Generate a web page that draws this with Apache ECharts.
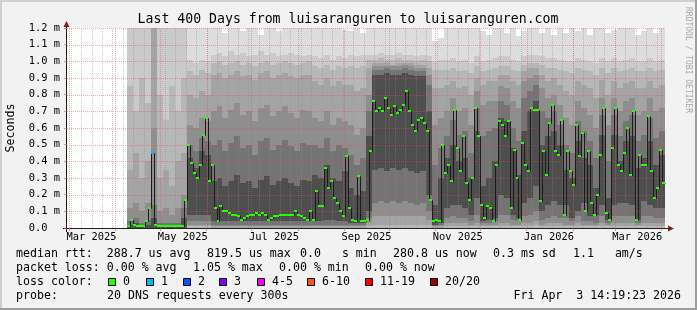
<!DOCTYPE html>
<html><head><meta charset="utf-8">
<script src="https://cdn.jsdelivr.net/npm/echarts@6/dist/echarts.min.js"></script>
<style>html,body{margin:0;padding:0;background:#f2f2f2}#c{width:697px;height:310px}</style>
</head><body><div id="c"></div>
<script>
// ================= DATA (latency values in units of 0.01 ms) =================
const endTime = '2026-04-03T14:19:23Z';
const spanDays = 400;
const xTickLabels = ['Mar 2025','May 2025','Jul 2025','Sep 2025','Nov 2025','Jan 2026','Mar 2026'];
const xTickLabelDates = ['2025-03-16','2025-05-16','2025-07-16','2025-09-16','2025-11-16','2026-01-16','2026-03-16'];
const monthStartDates = ['2025-03-01','2025-04-01','2025-05-01','2025-06-01','2025-07-01','2025-08-01','2025-09-01',
  '2025-10-01','2025-11-01','2025-12-01','2026-01-01','2026-02-01','2026-03-01','2026-04-01'];
const firstWeekLine = '2025-03-02';
const yMax = 120, yStep = 10;

// median rtt, one value per 2 days starting at day 40
const medianFirstDay = 40, medianStepDays = 2;
const median = [
  1,5,2,1,1,1,4,12,45,2,
  1,1,1,1,1,1,1,1,1,17,
  50,39,33,30,38,56,66,28,38,12,
  4,13,10,10,9,8,8,7,5,6,
  7,8,8,9,8,9,8,5,6,7,
  7,8,8,8,8,8,10,8,7,6,
  5,10,5,22,13,13,36,24,28,18,
  15,10,7,43,12,5,4,31,4,4,
  5,46,76,70,72,70,78,72,68,73,
  69,71,74,82,70,62,58,65,66,63,
  58,17,4,5,4,50,33,38,28,71,
  48,34,55,27,17,30,72,55,14,6,
  13,12,4,38,64,62,55,64,12,47,
  30,5,51,38,34,72,71,71,16,46,
  32,63,74,46,44,65,8,46,34,26,
  62,43,57,10,46,15,8,20,44,72,
  9,5,48,72,38,34,45,60,32,70,
  5,44,38,38,67,34,18,24,47,27];
// [median index, lost pings of 20]
const lossEvents = [[8, 1]];

// smoke bands, one column per 4 days starting at day 40
const smokeFirstDay = 40, smokeStepDays = 4;
const smokeHi1 = [130,130,130,130,130,130,130,130,130,130, 130,130,130,130,
  130,130,117,130,130,118,130,130,116,130,130,118,130,130,130,130,130,
  130,130,130,130,130,119, 118,130,117,
  130,130,130,130,130,130,130,130,130,130, 130, 112,114,
  130,130,130,130,130,130,118,116,130,130,117,130,115,118,130,130,117,130,116,130,117,130,118,130,116,130,130,117,119,130,130,130,116,118,130,117,130];
const smokeHi2 = [130,130,130,130,130,130,130,130,130,130, 101,99,101,100,
  104,105,103,106,104,105,103,104,106,104,105,103,104,105,104,103,104,
  103,102,104,101,103,102, 104,103,104,
  104,104,105,104,104,105,104,104,103,104, 103, 100,101,
  101,102,100,101,99,103,100,101,102,103,103,101,100,103,104,104,103,102,102,101,100,100,102,101,100,99,102,100,102,100,101,102,100,100,102,100,101];
const smokeHi3 = [85,70,90,75,130,80,65,85,70,90, 94,92,95,93,
  99,100,98,99,100,98,99,97,99,100,98,99,100,99,98,99,100,
  97,96,98,95,97,96, 97,96,97,
  101,101,102,101,101,102,101,101,100,101, 100, 95,95,
  95,96,94,95,93,97,94,95,96,97,97,95,94,98,99,99,98,96,96,95,94,93,96,95,94,92,96,93,96,94,95,96,94,94,96,94,95];
const smokeHi4 = [35,45,30,40,130,30,35,25,40,45, 80,78,82,80,
  92,93,90,92,94,91,92,89,93,94,90,92,93,91,90,92,92,
  88,86,90,85,88,86, 86,82,84,
  96,99,99,99,98,99,99,99,98,98, 96, 84,84,
  86,88,84,85,80,90,86,88,88,92,92,88,86,94,96,96,92,88,90,86,82,80,88,86,84,78,89,80,88,84,87,88,84,84,88,84,86];
const smokeHi5 = [12,15,10,15,60,10,12,8,12,20, 62,60,66,64,
  70,73,66,71,75,68,70,64,72,74,67,70,73,69,66,71,70,
  66,64,70,62,66,64, 62,56,60,
  80,97,97,97,97,97,98,97,96,96, 92, 62,66,
  70,78,70,72,62,82,74,76,76,85,84,76,72,88,90,92,84,78,80,74,66,62,76,72,68,60,78,62,78,70,76,78,68,70,78,70,72];
const smokeHi6 = [4,6,3,5,14,3,3,3,3,12, 50,46,54,52,
  50,53,46,51,55,48,50,44,52,54,47,50,53,49,46,51,50,
  50,48,54,46,50,48, 44,38,42,
  70,95,95,96,95,95,96,95,94,94, 86, 38,48,
  55,65,56,58,45,72,55,58,60,76,74,60,52,78,82,86,70,66,70,62,50,45,64,58,52,42,68,40,68,55,64,68,52,56,66,54,58];
const smokeHi7 = [2,3,2,2,6,1,1,1,1,6, 42,36,46,44,
  28,30,25,28,32,27,28,24,29,31,26,28,30,27,25,29,28,
  32,30,38,30,28,34, 24,20,22,
  55,92,92,93,92,92,93,92,91,91, 70, 14,30,
  42,50,40,42,30,58,25,30,40,66,64,48,32,58,70,76,50,55,58,50,35,30,52,42,38,24,56,18,56,40,52,55,36,42,52,38,44];
const smokeLo4 = [0,0,0,0,0,0,0,0,0,0, 1,1,1,1,
  0,0,0,0,0,0,0,0,0,0,0,0,0,0,0,0,0,
  0,0,0,0,0,0, 0,0,0,
  1,2,2,2,2,2,2,2,2,2, 2, 0,0,
  1,1,1,1,1,1,1,1,1,1,1,1,1,1,1,2,1,1,1,1,1,1,1,1,1,1,1,1,1,1,1,1,1,1,1,1,1];
const smokeLo5 = [0,0,0,0,0,0,0,0,0,0, 2,2,2,2,
  1,1,1,1,1,1,1,1,1,1,1,1,1,1,1,1,1,
  1,1,1,1,1,1, 1,1,1,
  3,7,7,7,7,7,7,7,7,7, 5, 1,1,
  3,3,3,3,2,3,2,2,2,3,3,2,2,3,3,4,2,3,3,3,2,2,3,2,2,2,3,2,3,3,3,3,2,3,3,3,3];
const smokeLo6 = [0,0,0,0,0,0,0,0,0,0, 4,4,4,4,
  2,2,2,2,2,2,2,2,2,2,2,2,2,2,2,2,2,
  2,2,2,2,2,2, 2,2,2,
  6,15,16,15,16,15,16,15,14,15, 10, 2,2,
  6,7,6,6,4,8,3,3,4,8,8,5,4,7,8,10,5,6,7,6,6,4,7,4,4,3,7,3,7,7,7,7,3,7,7,6,6];
const smokeLo7 = [0,0,0,0,0,0,0,0,0,0, 8,8,8,8,
  4,4,4,4,4,4,4,4,4,4,4,4,4,4,4,4,4,
  4,4,5,5,4,4, 3,3,3,
  10,35,36,34,36,35,36,34,33,34, 20, 2,3,
  12,14,14,12,8,18,4,5,6,20,18,8,6,15,18,25,10,14,16,14,14,6,10,15,7,8,14,5,14,15,15,14,5,16,14,12,12];

// ================= STYLE =================
const FONT = '"DejaVu Sans Mono", monospace';
const MGRID = 'rgba(222,79,79,0.45)', GRID = 'rgba(143,143,143,0.45)', TICK = 'rgba(222,79,79,0.6)';
const bandColors = ['#dddddd','#cacaca','#b7b7b7','#a4a4a4','#8e8e8e','#747474','#4e4e4e'];
const lossColors = ['#26ff00','#00b8ff','#0059ff','#7e00ff','#ff00ff','#ff5500','#ff0000','#a10000'];

// ================= DERIVED =================
const DAY = 864e5;
const endMs = Date.parse(endTime), startMs = endMs - spanDays * DAY;
const dayOf = s => (Date.parse(s + 'T00:00:00Z') - startMs) / DAY;
const monthDays = monthStartDates.map(dayOf).filter(d => d >= 0 && d <= spanDays);
const labelDays = xTickLabelDates.map(dayOf);
const weekDays = [];
for (let d = dayOf(firstWeekLine); d < spanDays; d += 7) weekDays.push(d);
const hGrid = [];
for (let v = yStep; v <= yMax; v += yStep) hGrid.push(v);

const smokeData = smokeHi1.map((_, j) => [
  smokeFirstDay + j * smokeStepDays, smokeFirstDay + (j + 1) * smokeStepDays,
  0, smokeHi1[j], 0, smokeHi2[j], 0, smokeHi3[j],
  smokeLo4[j], smokeHi4[j], smokeLo5[j], smokeHi5[j], smokeLo6[j], smokeHi6[j], smokeLo7[j], smokeHi7[j]]);
const lossOf = i => { const e = lossEvents.find(e => e[0] === i); return e ? e[1] : 0; };
const medianData = median.map((v, i) => [
  medianFirstDay + i * medianStepDays, medianFirstDay + (i + 1) * medianStepDays,
  v, i > 0 ? median[i - 1] : v, lossOf(i)]);

function renderSmoke(params, api) {
  const d0 = api.value(0), d1 = api.value(1);
  const children = [];
  for (let k = 0; k < 7; k++) {
    const lo = Math.max(0, api.value(2 + 2 * k)), hi = Math.min(yMax, api.value(3 + 2 * k));
    if (hi <= lo) continue;
    const p0 = api.coord([d0, hi]), p1 = api.coord([d1, lo]);
    const x0 = Math.round(p0[0]), x1 = Math.round(p1[0]);
    const y0 = Math.round(p0[1]), y1 = Math.round(p1[1]);
    children.push({type: 'rect', shape: {x: x0, y: y0, width: x1 - x0, height: y1 - y0},
      style: {fill: bandColors[k]}});
  }
  return {type: 'group', children};
}
function renderMedianLine(params, api) {
  const a = api.coord([api.value(0), api.value(2)]);
  const b = api.coord([api.value(1), api.value(2)]);
  const yp = Math.round(api.coord([0, api.value(3)])[1]) + 0.5;
  const x0 = Math.round(a[0]) + 0.5, x1 = Math.round(b[0]) + 0.5, y = Math.round(a[1]) + 0.5;
  return {type: 'polyline', shape: {points: [[x0, yp], [x0, y], [x1, y]]},
    style: {stroke: '#1c1c1c', lineWidth: 1, fill: null}};
}
function renderMedianDot(params, api) {
  const a = api.coord([api.value(0), api.value(2)]);
  const b = api.coord([api.value(1), api.value(2)]);
  const x0 = Math.round(a[0]), x1 = Math.round(b[0]), y = Math.round(a[1]);
  const loss = api.value(4);
  const ci = loss <= 0 ? 0 : loss <= 3 ? loss : loss <= 5 ? 4 : loss <= 10 ? 5 : loss < 20 ? 6 : 7;
  return {type: 'rect', shape: {x: x0, y: y - 1, width: x1 - x0, height: 2}, style: {fill: lossColors[ci]}};
}
function renderHLine(params, api) {
  const y = Math.round(api.coord([0, api.value(1)])[1]) + 0.5;
  const xa = api.coord([0, 0])[0], xb = api.coord([spanDays, 0])[0];
  return {type: 'line', shape: {x1: xa, y1: y, x2: xb, y2: y},
    style: {stroke: MGRID, lineWidth: 1, lineDash: [1, 1], fill: null}};
}
function vLineRenderer(color) {
  return function (params, api) {
    const x = Math.round(api.coord([api.value(0), 0])[0]) + 0.5;
    const ya = api.coord([0, 0])[1], yb = api.coord([0, yMax])[1];
    return {type: 'line', shape: {x1: x, y1: ya, x2: x, y2: yb},
      style: {stroke: color, lineWidth: 1, lineDash: [1, 1], fill: null}};
  };
}

const chart = echarts.init(document.getElementById('c'), null, {renderer: 'canvas'});
const txt = (text, x, y, extra) => Object.assign({type: 'text', x, y, silent: true,
  style: Object.assign({text, font: '11.6px ' + FONT, fill: '#000', verticalAlign: 'middle', align: 'left'}, extra || {})});
const legendItems = [['0',108],['1',146],['2',183],['3',219],['4-5',257],['6-10',307],['11-19',365],['20/20',430]];
const graphics = [
  {type: 'rect', silent: true, shape: {x: 0, y: 0, width: 697, height: 2}, style: {fill: '#cfcfcf'}},
  {type: 'rect', silent: true, shape: {x: 0, y: 0, width: 2, height: 310}, style: {fill: '#cfcfcf'}},
  {type: 'rect', silent: true, shape: {x: 0, y: 308, width: 697, height: 2}, style: {fill: '#9e9e9e'}},
  {type: 'rect', silent: true, shape: {x: 695, y: 0, width: 2, height: 310}, style: {fill: '#9e9e9e'}},
  {type: 'line', silent: true, shape: {x1: 66.5, y1: 232, x2: 66.5, y2: 25}, style: {stroke: '#1f1f1f', lineWidth: 1}},
  {type: 'polygon', silent: true, shape: {points: [[63.5, 27], [69.5, 27], [66.5, 21]]}, style: {fill: '#801f1f'}},
  {type: 'line', silent: true, shape: {x1: 63, y1: 228.5, x2: 669, y2: 228.5}, style: {stroke: '#1f1f1f', lineWidth: 1}},
  {type: 'polygon', silent: true, shape: {points: [[668, 225.5], [668, 231.5], [674, 228.5]]}, style: {fill: '#801f1f'}},
  txt('Last 400 Days from luisaranguren to luisaranguren.com', 348, 19.5, {font: '13.2px ' + FONT, align: 'center'}),
  txt('Seconds', 11, 128, {align: 'center', }),
  txt('RRDTOOL / TOBI OETIKER', 688, 60, {font: '8px ' + FONT, fill: '#a8a8a8', align: 'center'}),
  txt('median rtt:  288.7 us avg', 16, 254), txt('819.5 us max', 207, 254), txt('0.0   s min', 300, 254),
  txt('280.8 us now', 393, 254), txt('0.3 ms sd', 493, 254), txt('1.1   am/s', 573, 254),
  txt('packet loss: 0.00 % avg', 16, 268), txt('1.05 % max', 193, 268), txt('0.00 % min', 279, 268), txt('0.00 % now', 365, 268),
  txt('loss color:', 16, 282),
  txt('probe:', 16, 296), txt('20 DNS requests every 300s', 107, 296), txt('Fri Apr  3 14:19:23 2026', 681, 296, {align: 'right'})
];
graphics[9].rotation = Math.PI / 2;
graphics[10].rotation = -Math.PI / 2;
legendItems.forEach((it, k) => {
  graphics.push({type: 'rect', silent: true, shape: {x: it[1] + 0.5, y: 278.5, width: 7, height: 7},
    style: {fill: lossColors[k], stroke: '#000', lineWidth: 1}});
  graphics.push(txt(it[0], it[1] + 15, 282));
});

chart.setOption({
  animation: false,
  backgroundColor: '#f2f2f2',
  grid: {left: 67, top: 28, width: 598, height: 200, show: true, backgroundColor: '#ffffff', borderWidth: 0},
  xAxis: {type: 'value', min: 0, max: spanDays,
    axisLine: {show: false}, splitLine: {show: false},
    axisTick: {show: true, customValues: monthDays, length: 3, lineStyle: {color: TICK}},
    axisLabel: {customValues: labelDays, margin: 4, fontFamily: FONT, fontSize: 10.4, color: '#000',
      formatter: v => { let b = 0; labelDays.forEach((d, k) => { if (Math.abs(d - v) < Math.abs(labelDays[b] - v)) b = k; }); return xTickLabels[b]; }}},
  yAxis: {type: 'value', min: 0, max: yMax, interval: yStep,
    axisLine: {show: false}, splitLine: {show: false},
    axisTick: {show: true, length: 3, lineStyle: {color: TICK}},
    axisLabel: {margin: 7, fontFamily: FONT, fontSize: 10.4, color: '#000',
      formatter: v => v === 0 ? '0.0  ' : (v / 100).toFixed(1) + ' m'}},
  series: [
    {type: 'custom', z: 1, silent: true, data: smokeData, encode: {x: [0, 1], y: [3]}, renderItem: renderSmoke},
    {type: 'custom', z: 2, silent: true, data: weekDays.map(d => [d, 0]), encode: {x: 0, y: 1}, renderItem: vLineRenderer(GRID)},
    {type: 'custom', z: 2, silent: true, data: monthDays.map(d => [d, 0]), encode: {x: 0, y: 1}, renderItem: vLineRenderer(MGRID)},
    {type: 'custom', z: 2, silent: true, data: hGrid.map(v => [0, v]), encode: {x: 0, y: 1}, renderItem: renderHLine},
    {type: 'custom', z: 3, silent: true, data: medianData, encode: {x: [0, 1], y: 2}, renderItem: renderMedianLine},
    {type: 'custom', z: 4, silent: true, data: medianData, encode: {x: [0, 1], y: 2}, renderItem: renderMedianDot}
  ],
  graphic: graphics
});
</script></body></html>
